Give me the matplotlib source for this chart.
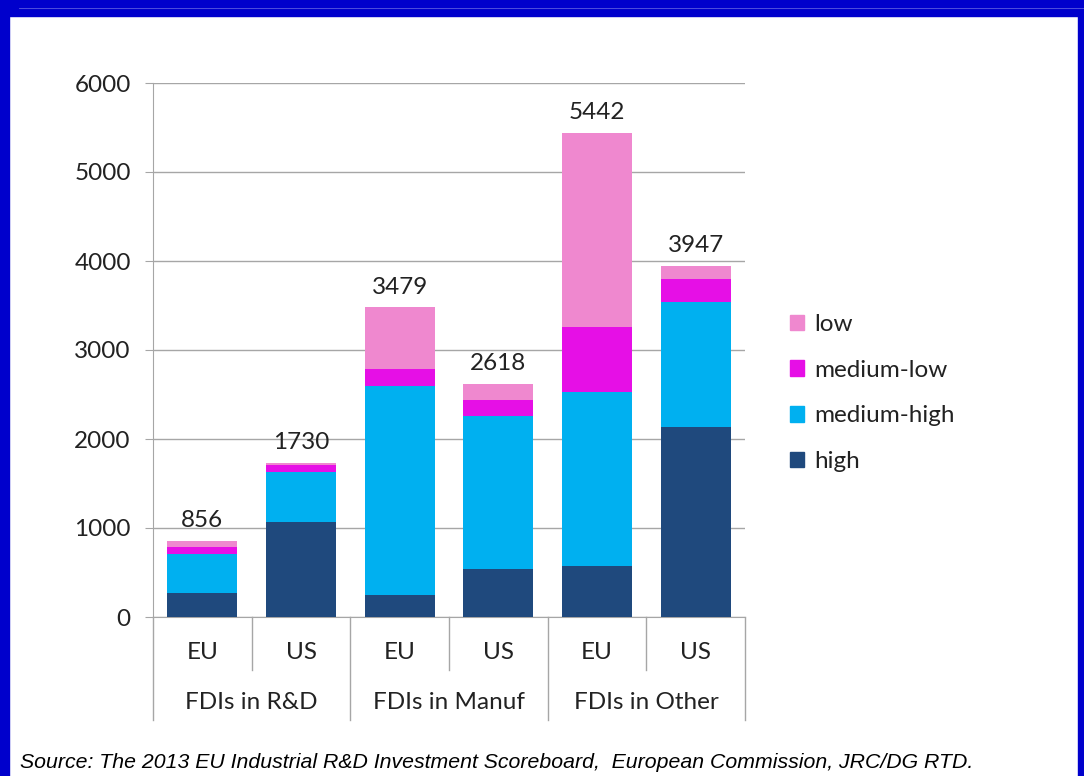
import matplotlib.pyplot as plt
import matplotlib.patches as mpatches
from matplotlib.lines import Line2D
from matplotlib.patches import Rectangle

# data
regions = ["EU", "US", "EU", "US", "EU", "US"]
groups = ["FDIs in R&D", "FDIs in Manuf", "FDIs in Other"]
high = [265, 1070, 245, 535, 575, 2140]
medium_high = [445, 560, 2350, 1720, 1950, 1403]
medium_low = [75, 75, 190, 180, 732, 258]
low = [71, 25, 694, 183, 2185, 146]
totals = [856, 1730, 3479, 2618, 5442, 3947]

series = [("high", high, "#1f497d"),
          ("medium-high", medium_high, "#00b0f0"),
          ("medium-low", medium_low, "#e60fe6"),
          ("low", low, "#ef88cf")]

FS = 17.5
plt.rcParams['font.family'] = ['Lato', 'DejaVu Sans']
fig = plt.figure(figsize=(10.84, 7.76), dpi=100)

# blue frame like the slide
fig.patches.append(Rectangle((0, 1 - 15.5 / 776), 1, 15.5 / 776, transform=fig.transFigure,
                             color="#0000cc", zorder=0))
fig.patches.append(Rectangle((0, 0), 9 / 1084, 1, transform=fig.transFigure,
                             color="#0000cc", zorder=0))
fig.patches.append(Rectangle((1 - 6 / 1084, 0), 6 / 1084, 1, transform=fig.transFigure,
                             color="#0000cc", zorder=0))
fig.lines.append(Line2D([19 / 1084, 1], [1 - 8 / 776, 1 - 8 / 776], transform=fig.transFigure,
                        color="#5a5ae0", lw=0.6))

ax = fig.add_axes([153 / 1084, 1 - 617 / 776, 592 / 1084, 534 / 776])
x = list(range(len(regions)))
bottom = [0] * len(regions)
for name, vals, col in series:
    ax.bar(x, vals, width=0.71, bottom=bottom, color=col, label=name, zorder=3)
    bottom = [b + v for b, v in zip(bottom, vals)]

for xi, t, b in zip(x, totals, bottom):
    ax.text(xi, b + 110, str(t), ha="center", va="bottom", fontsize=FS, color="#222222")

ax.set_xlim(-0.5, 5.5)
ax.set_ylim(0, 6000)
ax.set_yticks(range(0, 6001, 1000))
ax.yaxis.grid(True, color="#a6a6a6", lw=1, zorder=0)
ax.tick_params(axis="y", length=6, color="#a6a6a6", pad=10, labelsize=FS, labelcolor="#222222")
ax.set_xticks([])
for s in ["top", "right"]:
    ax.spines[s].set_visible(False)
ax.spines["left"].set_color("#a6a6a6")
ax.spines["bottom"].set_color("#a6a6a6")

# two-level category axis
tr = ax.get_xaxis_transform()
for i in range(7):
    xe = i - 0.5
    end = -0.193 if i % 2 == 0 else -0.0993
    ax.plot([xe, xe], [0, end], transform=tr, color="#a6a6a6", lw=1, clip_on=False)
for xi, r in zip(x, regions):
    ax.text(xi, -0.0674, r, transform=tr, ha="center", va="center", fontsize=FS, color="#222222")
for gi, g in enumerate(groups):
    ax.text(2 * gi + 0.5, -0.161, g, transform=tr, ha="center", va="center", fontsize=FS,
            color="#222222")

handles = [mpatches.Patch(color=col, label=name) for name, vals, col in reversed(series)]
fig.legend(handles=handles, loc="center left", bbox_to_anchor=(768 / 1084, 1 - 393 / 776),
           frameon=False, fontsize=FS, handlelength=0.6, handleheight=0.6,
           handletextpad=0.4, labelspacing=1.02, labelcolor="#222222")

fig.text(20 / 1084, 1 - 762 / 776,
         "Source: The 2013 EU Industrial R&D Investment Scoreboard,  European Commission, JRC/DG RTD.",
         family="Liberation Sans", style="italic", fontsize=15.3, va="center", ha="left")

fig.savefig("out.png", dpi=100)
